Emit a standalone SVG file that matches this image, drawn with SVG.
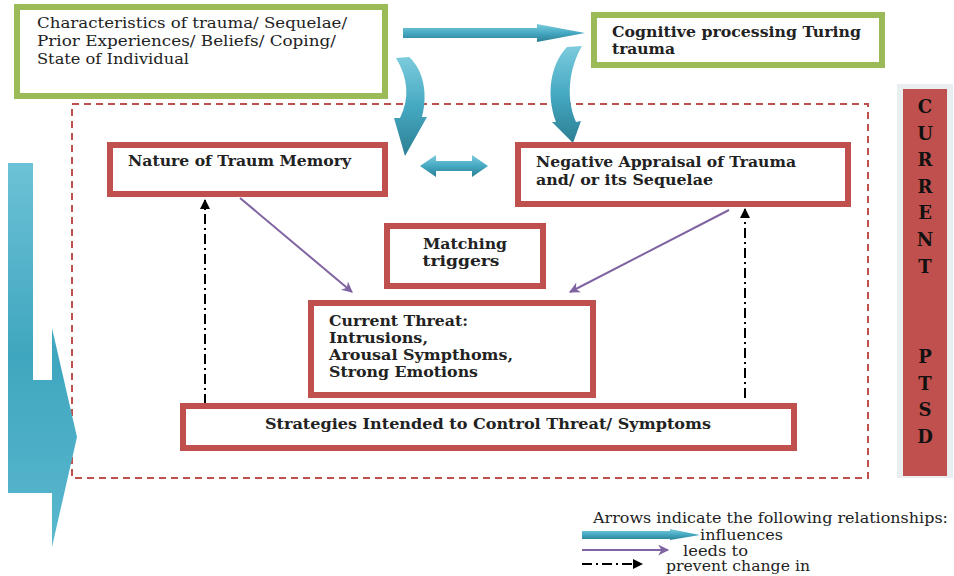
<svg xmlns="http://www.w3.org/2000/svg" width="954" height="576" viewBox="0 0 954 576">
<defs>
<linearGradient id="tealV" x1="0" y1="0" x2="0" y2="1">
<stop offset="0" stop-color="#6cc2d6"/><stop offset="0.5" stop-color="#3fa6bf"/><stop offset="1" stop-color="#5bb8cf"/>
</linearGradient>
<linearGradient id="tealH" x1="0" y1="0" x2="0" y2="1">
<stop offset="0" stop-color="#7ccbdc"/><stop offset="0.5" stop-color="#45a9c2"/><stop offset="1" stop-color="#2c7f93"/>
</linearGradient>
<marker id="purp" viewBox="0 0 10 10" refX="9" refY="5" markerWidth="12" markerHeight="11" markerUnits="userSpaceOnUse" orient="auto">
<path d="M0,0 L10,5 L0,10 L3,5 z" fill="#8064a2"/>
</marker>
<marker id="blk" viewBox="0 0 10 10" refX="9" refY="5" markerWidth="10" markerHeight="10" markerUnits="userSpaceOnUse" orient="auto">
<path d="M0,0 L10,5 L0,10 z" fill="#000"/>
</marker>
</defs>
<style>
.g{fill:#fff;stroke:#9bbb59;stroke-width:6}
.r{fill:#fff;stroke:#c0504d;stroke-width:6}
.t{font-family:"DejaVu Serif","Liberation Serif",serif;font-size:14px;fill:#222}
.b{font-family:"DejaVu Serif","Liberation Serif",serif;font-size:14px;font-weight:bold;fill:#222}
.v{font-family:"DejaVu Serif","Liberation Serif",serif;font-size:18px;font-weight:bold;fill:#111;text-anchor:middle}
.teal{fill:url(#tealH)}
.pl{stroke:#8064a2;stroke-width:2;fill:none;marker-end:url(#purp)}
.dd{stroke:#000;stroke-width:2;fill:none;stroke-dasharray:10,4,2,4;marker-end:url(#blk)}
</style>
<rect width="954" height="576" fill="#fff"/>

<rect x="72" y="104" width="796" height="374" fill="none" stroke="#c0504d" stroke-width="2" stroke-dasharray="7,5"/>

<g id="connectors">
<path d="M8,163 L33,163 L33,380 L52,380 L52,328 L77,437 L52,547 L52,493 L8,493 Z" fill="url(#tealV)"/>
<polygon class="teal" points="403,28 537,28 537,24 585,33 537,42 537,38 403,38"/>
<polygon class="teal" points="420,166 436,155 436,161 472,161 472,155 488,166 472,177 472,171 436,171 436,177"/>
<path class="teal" d="M396,58 L409,57 C424,70 428,95 422,117 L427,117 L405,156 L394,118 L400,118 C410,98 408,78 396,58 Z"/>
<path class="teal" d="M582,46 L567,47 C550,65 546,95 556,122 L552,122 L573,143 L581,121 L576,122 C566,100 568,70 582,46 Z"/>
<line class="pl" x1="240" y1="198" x2="352" y2="292"/>
<line class="pl" x1="729" y1="210" x2="570" y2="292"/>
<line class="dd" x1="205" y1="404" x2="205" y2="200"/>
<line class="dd" x1="745" y1="398" x2="745" y2="209"/>
</g>

<g id="n1"><rect class="g" x="17" y="7" width="368" height="89"/>
<text class="t" x="37" y="28" textLength="310" lengthAdjust="spacingAndGlyphs">Characteristics of trauma/ Sequelae/</text>
<text class="t" x="37" y="46" textLength="299" lengthAdjust="spacingAndGlyphs">Prior Experiences/ Beliefs/ Coping/</text>
<text class="t" x="37" y="64" textLength="152" lengthAdjust="spacingAndGlyphs">State of Individual</text></g>

<g id="n2"><rect class="g" x="594" y="15" width="288" height="50"/>
<text class="b" x="612" y="37" textLength="249" lengthAdjust="spacingAndGlyphs">Cognitive processing Turing</text>
<text class="b" x="612" y="54" textLength="63" lengthAdjust="spacingAndGlyphs">trauma</text></g>

<g id="n3"><rect class="r" x="110" y="145" width="275" height="49"/>
<text class="b" x="128" y="166" textLength="223" lengthAdjust="spacingAndGlyphs">Nature of Traum Memory</text></g>

<g id="n4"><rect class="r" x="518" y="145" width="330" height="59"/>
<text class="b" x="536" y="167" textLength="260" lengthAdjust="spacingAndGlyphs">Negative Appraisal of Trauma</text>
<text class="b" x="536" y="185" textLength="177" lengthAdjust="spacingAndGlyphs">and/ or its Sequelae</text></g>

<g id="n5"><rect class="r" x="387" y="226" width="156" height="60"/>
<text class="b" x="465" y="249" text-anchor="middle" textLength="84" lengthAdjust="spacingAndGlyphs">Matching</text>
<text class="b" x="461" y="266" text-anchor="middle" textLength="77" lengthAdjust="spacingAndGlyphs">triggers</text></g>

<g id="n6"><rect class="r" x="311" y="303" width="282" height="92"/>
<text class="b" x="329" y="326" textLength="139" lengthAdjust="spacingAndGlyphs">Current Threat:</text>
<text class="b" x="329" y="343" textLength="99" lengthAdjust="spacingAndGlyphs">Intrusions,</text>
<text class="b" x="329" y="360" textLength="184" lengthAdjust="spacingAndGlyphs">Arousal Sympthoms,</text>
<text class="b" x="329" y="377" textLength="149" lengthAdjust="spacingAndGlyphs">Strong Emotions</text></g>

<g id="n7"><rect class="r" x="183" y="406" width="611" height="42"/>
<text class="b" x="265" y="429" textLength="446" lengthAdjust="spacingAndGlyphs">Strategies Intended to Control Threat/ Symptoms</text></g>

<g id="n8"><rect x="897" y="84" width="56" height="394" fill="#e9eef0"/>
<rect x="903" y="89" width="44" height="387" fill="#c0504d"/>
<text class="v" x="925" y="113">C</text>
<text class="v" x="925" y="140">U</text>
<text class="v" x="925" y="166">R</text>
<text class="v" x="925" y="193">R</text>
<text class="v" x="925" y="219">E</text>
<text class="v" x="925" y="246">N</text>
<text class="v" x="925" y="273">T</text>
<text class="v" x="925" y="363">P</text>
<text class="v" x="925" y="390">T</text>
<text class="v" x="925" y="416">S</text>
<text class="v" x="925" y="443">D</text></g>

<g id="legend">
<text class="t" x="593" y="523" textLength="355" lengthAdjust="spacingAndGlyphs">Arrows indicate the following relationships:</text>
<polygon class="teal" points="582,531 670,531 670,529 700,535 670,540 670,539 582,539"/>
<text class="t" x="700" y="540" textLength="83" lengthAdjust="spacingAndGlyphs">influences</text>
<line class="pl" x1="582" y1="550" x2="668" y2="550"/>
<text class="t" x="683" y="556" textLength="65" lengthAdjust="spacingAndGlyphs">leeds to</text>
<line class="dd" x1="582" y1="564" x2="642" y2="564" stroke-dasharray="14,5,2,5"/>
<text class="t" x="666" y="571" textLength="144" lengthAdjust="spacingAndGlyphs">prevent change in</text>
</g>
</svg>
